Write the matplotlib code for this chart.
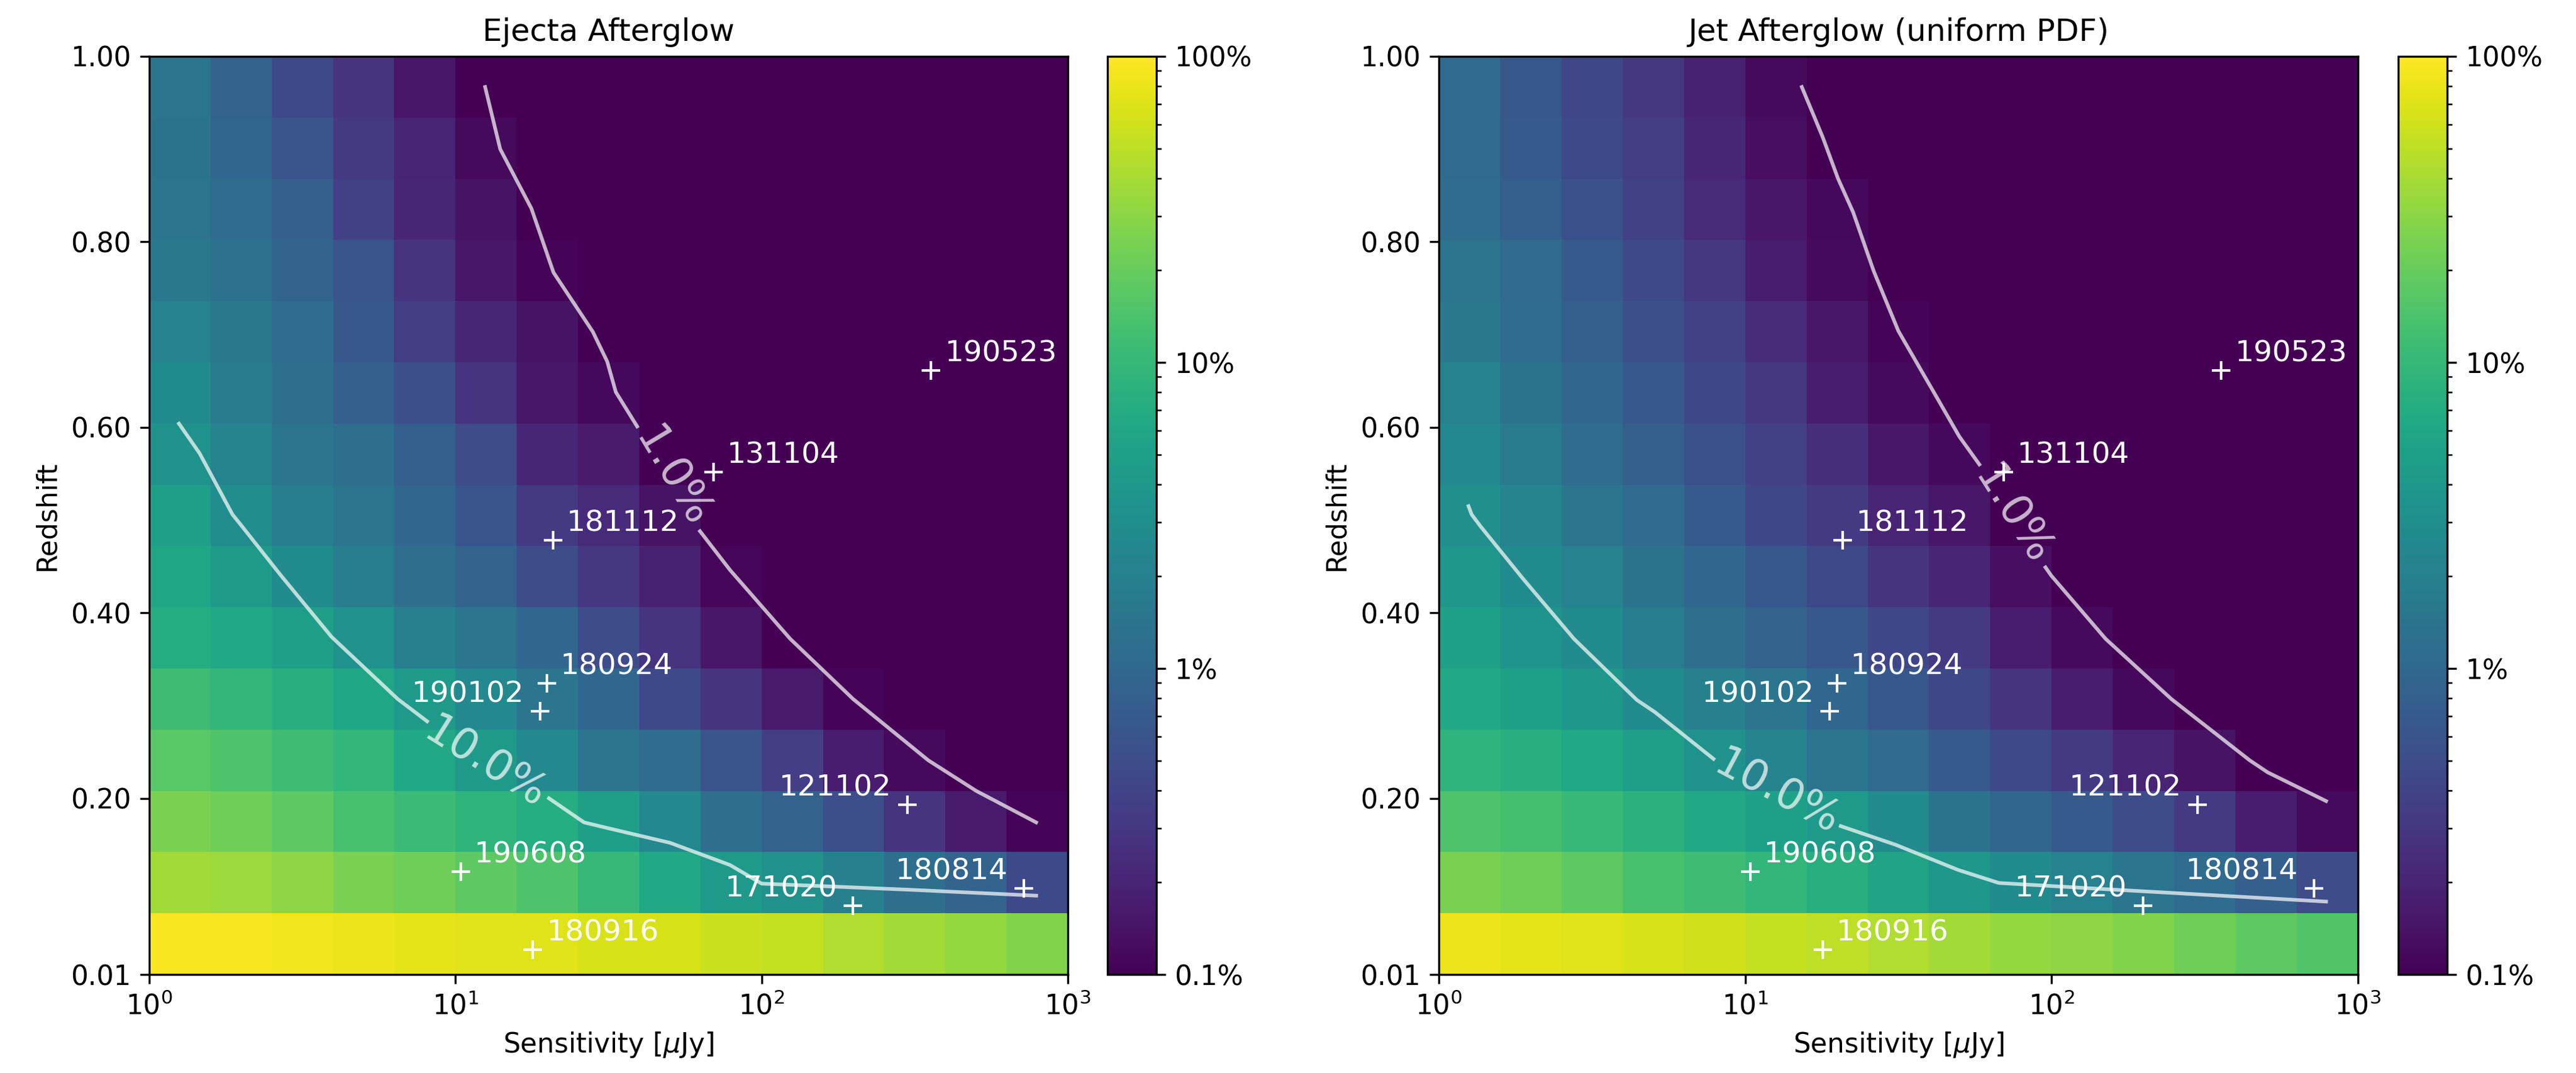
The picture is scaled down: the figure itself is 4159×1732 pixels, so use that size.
import numpy as np
import matplotlib
matplotlib.use('Agg')
from matplotlib import pyplot as plt
from matplotlib.colors import LogNorm
from matplotlib.ticker import FormatStrFormatter, NullLocator, LogLocator, NullFormatter

plt.rcParams['font.size'] = 10.5

# grid edges: sensitivity (log, 1..1000 uJy) and redshift
sens_edges = np.logspace(0, 3, 16)
z_edges = np.linspace(0.01, 1.0, 16)

# detection fraction in percent, rows from lowest redshift upward
ejecta_pct = [
    [93, 93, 87, 81, 76, 71, 71, 66, 66, 57, 54, 44, 38, 33, 27],
    [38, 35, 31, 25, 22, 18, 14.5, 10.2, 6.3, 4.2, 3.2, 1.95, 1.2, 0.91, 0.46],
    [25, 22, 18, 13.5, 11, 8.9, 7.2, 4.8, 2.6, 1.2, 0.85, 0.52, 0.28, 0.16, 0.107],
    [16.6, 14.5, 11.7, 9.5, 6.3, 4.2, 2.6, 1.48, 1.12, 0.6, 0.35, 0.17, 0.12, 0.05, 0.05],
    [11.7, 9.5, 7.8, 5.9, 4.2, 2.6, 1.48, 0.98, 0.46, 0.28, 0.16, 0.107, 0.05, 0.05, 0.05],
    [7.2, 6.3, 4.8, 3.4, 1.95, 1.48, 0.98, 0.49, 0.28, 0.15, 0.05, 0.05, 0.05, 0.05, 0.05],
    [5.9, 4.2, 2.75, 1.82, 1.2, 0.85, 0.49, 0.3, 0.19, 0.11, 0.05, 0.05, 0.05, 0.05, 0.05],
    [4.8, 2.95, 1.82, 1.48, 0.98, 0.6, 0.32, 0.23, 0.14, 0.05, 0.05, 0.05, 0.05, 0.05, 0.05],
    [3.4, 2.24, 1.48, 1.2, 0.79, 0.49, 0.21, 0.16, 0.05, 0.05, 0.05, 0.05, 0.05, 0.05, 0.05],
    [2.75, 1.7, 1.2, 0.79, 0.52, 0.28, 0.15, 0.115, 0.05, 0.05, 0.05, 0.05, 0.05, 0.05, 0.05],
    [2.1, 1.58, 1.12, 0.65, 0.35, 0.21, 0.14, 0.1, 0.05, 0.05, 0.05, 0.05, 0.05, 0.05, 0.05],
    [1.58, 1.29, 0.91, 0.6, 0.28, 0.15, 0.107, 0.05, 0.05, 0.05, 0.05, 0.05, 0.05, 0.05, 0.05],
    [1.48, 1.12, 0.79, 0.37, 0.21, 0.14, 0.05, 0.05, 0.05, 0.05, 0.05, 0.05, 0.05, 0.05, 0.05],
    [1.38, 0.98, 0.6, 0.32, 0.2, 0.12, 0.05, 0.05, 0.05, 0.05, 0.05, 0.05, 0.05, 0.05, 0.05],
    [1.48, 0.85, 0.46, 0.28, 0.15, 0.05, 0.05, 0.05, 0.05, 0.05, 0.05, 0.05, 0.05, 0.05, 0.05],
]

jet_pct = [
    [81, 76, 71, 66, 60, 54, 50, 44, 38, 33, 31, 27, 22, 18, 15.5],
    [25, 22, 18, 13.5, 11.7, 9.5, 7.8, 5.5, 3.9, 2.75, 2.1, 1.48, 1.12, 0.79, 0.49],
    [14.5, 12.6, 10.2, 8.3, 6.3, 5.1, 4.2, 2.75, 1.38, 0.98, 0.69, 0.49, 0.32, 0.17, 0.12],
    [8.9, 7.8, 6.3, 4.8, 3.4, 2.24, 1.48, 1.05, 0.69, 0.46, 0.32, 0.2, 0.14, 0.05, 0.05],
    [6.3, 5.1, 3.9, 2.75, 1.95, 1.48, 0.98, 0.65, 0.43, 0.28, 0.17, 0.115, 0.05, 0.05, 0.05],
    [5.1, 3.6, 2.75, 1.82, 1.2, 0.91, 0.65, 0.43, 0.32, 0.17, 0.12, 0.05, 0.05, 0.05, 0.05],
    [3.9, 2.75, 2.1, 1.38, 0.98, 0.65, 0.46, 0.28, 0.2, 0.13, 0.05, 0.05, 0.05, 0.05, 0.05],
    [3.16, 2.24, 1.48, 1.05, 0.69, 0.43, 0.32, 0.2, 0.15, 0.05, 0.05, 0.05, 0.05, 0.05, 0.05],
    [2.57, 1.7, 1.12, 0.79, 0.56, 0.37, 0.245, 0.15, 0.115, 0.05, 0.05, 0.05, 0.05, 0.05, 0.05],
    [2.1, 1.38, 0.98, 0.65, 0.43, 0.3, 0.17, 0.12, 0.05, 0.05, 0.05, 0.05, 0.05, 0.05, 0.05],
    [1.58, 1.12, 0.79, 0.52, 0.37, 0.23, 0.15, 0.107, 0.05, 0.05, 0.05, 0.05, 0.05, 0.05, 0.05],
    [1.48, 1.05, 0.69, 0.46, 0.3, 0.17, 0.12, 0.05, 0.05, 0.05, 0.05, 0.05, 0.05, 0.05, 0.05],
    [1.12, 0.79, 0.56, 0.37, 0.23, 0.15, 0.115, 0.05, 0.05, 0.05, 0.05, 0.05, 0.05, 0.05, 0.05],
    [1.05, 0.69, 0.46, 0.35, 0.21, 0.13, 0.05, 0.05, 0.05, 0.05, 0.05, 0.05, 0.05, 0.05, 0.05],
    [1.05, 0.65, 0.43, 0.3, 0.19, 0.12, 0.05, 0.05, 0.05, 0.05, 0.05, 0.05, 0.05, 0.05, 0.05],
]

# observed bursts
grb_names = ['190523', '131104', '181112', '180924', '190102',
             '190608', '180916', '121102', '171020', '180814']
grb_sens = [358, 69.7, 20.8, 19.9, 18.9, 10.4, 17.9, 299, 199, 718]
grb_z = [0.661, 0.552, 0.478, 0.324, 0.294, 0.121, 0.037, 0.193, 0.084, 0.103]
grb_side = ['r', 'r', 'r', 'r', 'l', 'r', 'r', 'l', 'l', 'l']

# contour lines (1% and 10%), split where the inline label sits
ej_1_a_x = [12.5, 14.0, 17.7, 20.9, 28.1, 31.3, 33.4, 39.2]
ej_1_a_z = [0.967, 0.900, 0.836, 0.767, 0.703, 0.671, 0.638, 0.601]
ej_1_b_x = [62.9, 78.9, 123.9, 199, 350, 502, 788]
ej_1_b_z = [0.488, 0.446, 0.372, 0.307, 0.241, 0.208, 0.174]
ej_10_a_x = [1.25, 1.46, 1.87, 2.0, 2.68, 3.94, 6.48, 8.08]
ej_10_a_z = [0.604, 0.572, 0.506, 0.494, 0.441, 0.374, 0.307, 0.283]
ej_10_b_x = [20.2, 26.3, 31.3, 50.2, 78.9, 100, 299, 788]
ej_10_b_z = [0.200, 0.174, 0.168, 0.152, 0.128, 0.108, 0.1015, 0.095]

jet_1_a_x = [15.3, 17.9, 20.1, 22.5, 26.3, 31.6, 41.4, 50.0, 58.1]
jet_1_a_z = [0.967, 0.913, 0.868, 0.832, 0.768, 0.704, 0.637, 0.590, 0.560]
jet_1_b_x = [95.5, 99.8, 150, 246, 443, 507, 787]
jet_1_b_z = [0.449, 0.440, 0.372, 0.307, 0.241, 0.228, 0.197]
jet_10_a_x = [1.25, 1.28, 1.37, 1.88, 2.76, 4.43, 5.07, 7.88]
jet_10_a_z = [0.515, 0.506, 0.493, 0.437, 0.372, 0.306, 0.293, 0.2425]
jet_10_b_x = [20.5, 30.9, 49.6, 67.3, 150, 787]
jet_10_b_z = [0.170, 0.150, 0.1227, 0.1087, 0.102, 0.0886]

panels = [
    dict(title='Ejecta Afterglow', data=ejecta_pct,
         lines=[(ej_1_a_x, ej_1_a_z), (ej_1_b_x, ej_1_b_z),
                (ej_10_a_x, ej_10_a_z), (ej_10_b_x, ej_10_b_z)],
         labels=[('1.0%', 51, 0.546, -59), ('10.0%', 12.5, 0.238, -32)],
         ax=[0.05795, 0.0918, 0.35658, 0.85566], cax=[0.42991, 0.0918, 0.0190, 0.85566]),
    dict(title='Jet Afterglow (uniform PDF)', data=jet_pct,
         lines=[(jet_1_a_x, jet_1_a_z), (jet_1_b_x, jet_1_b_z),
                (jet_10_a_x, jet_10_a_z), (jet_10_b_x, jet_10_b_z)],
         labels=[('1.0%', 74.5, 0.505, -57.5), ('10.0%', 12.7, 0.206, -28)],
         ax=[0.55855, 0.0918, 0.35682, 0.85566], cax=[0.93099, 0.0918, 0.0190, 0.85566]),
]

fig = plt.figure(figsize=(4159 / 300, 1732 / 300), dpi=300)

for p in panels:
    ax = fig.add_axes(p['ax'])
    mesh = ax.pcolormesh(sens_edges, z_edges, np.array(p['data']), cmap='viridis',
                         norm=LogNorm(vmin=0.1, vmax=100), shading='flat')

    for lx, lz in p['lines']:
        ax.plot(lx, lz, color='white', alpha=0.7, lw=1.4)
    for txt, tx, tz, rot in p['labels']:
        ax.text(tx, tz, txt, rotation=rot, rotation_mode='anchor', ha='center', va='center',
                color='white', alpha=0.7, fontsize=16.5)

    ax.plot(grb_sens, grb_z, '+', color='white', ms=7, mew=1.0, ls='none')
    for name, sx, sz, side in zip(grb_names, grb_sens, grb_z, grb_side):
        if side == 'r':
            ax.annotate(name, (sx, sz), xytext=(5.3, 3.5), textcoords='offset points',
                        ha='left', va='baseline', color='white', fontsize=11.4)
        else:
            ax.annotate(name, (sx, sz), xytext=(-6.2, 3.5), textcoords='offset points',
                        ha='right', va='baseline', color='white', fontsize=11.4)

    ax.set_xscale('log')
    ax.set_xlim(1, 1000)
    ax.set_ylim(0.01, 1.0)
    ax.xaxis.set_minor_locator(NullLocator())
    ax.set_yticks([0.01, 0.2, 0.4, 0.6, 0.8, 1.0])
    ax.yaxis.set_major_formatter(FormatStrFormatter('%.2f'))
    ax.set_xlabel(r'Sensitivity [$\mu$Jy]')
    ax.set_ylabel('Redshift')
    ax.set_title(p['title'], fontsize=12)

    cax = fig.add_axes(p['cax'])
    cb = fig.colorbar(mesh, cax=cax)
    cb.set_ticks([0.1, 1, 10, 100])
    cb.set_ticklabels(['0.1%', '1%', '10%', '100%'])
    cax.yaxis.set_minor_locator(LogLocator(subs=np.arange(2, 10)))
    cax.yaxis.set_minor_formatter(NullFormatter())

fig.savefig('out.png', dpi=300)
